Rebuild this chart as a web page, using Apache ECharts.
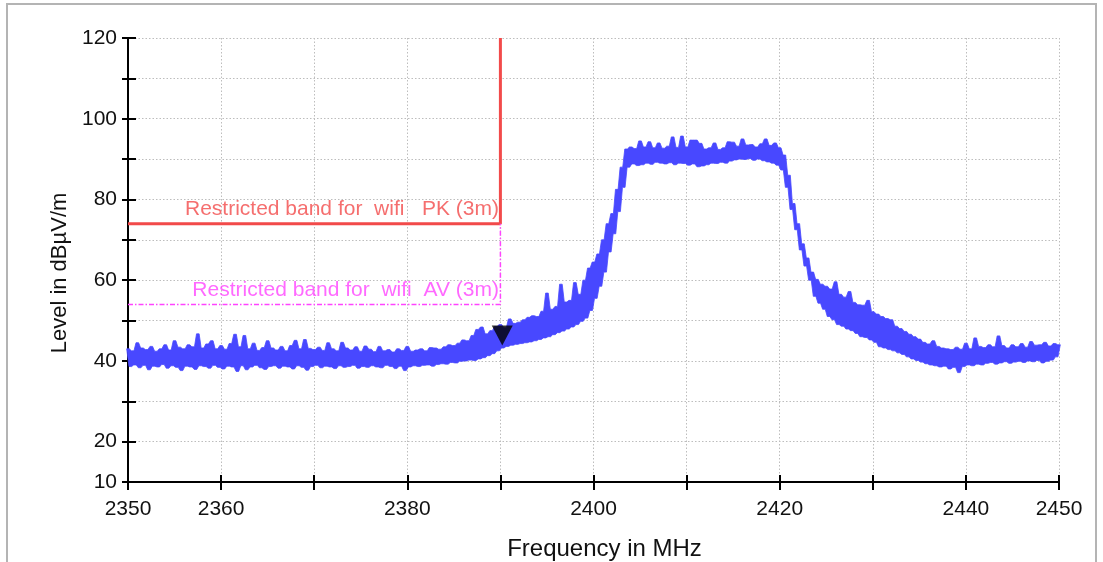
<!DOCTYPE html>
<html>
<head>
<meta charset="utf-8">
<script src="https://cdn.jsdelivr.net/npm/echarts@6/dist/echarts.min.js"></script>
<style>
html,body{margin:0;padding:0;background:#fff;}
#chart{width:1103px;height:562px;}
</style>
</head>
<body>
<div id="chart"></div>
<script>
// ---- data ----
var xLabelTicks = [2350, 2360, 2380, 2400, 2420, 2440, 2450];
var yLabelTicks = [10, 20, 40, 60, 80, 100, 120];
var xAxisName = 'Frequency in MHz';
var yAxisName = 'Level in dB\u00b5V/m';

// upper noise peaks, every 0.5 MHz starting at 2350
var upperStart = 2350;
var upperVals = [
43.0,42.5,44.5,43.2,42.8,43.6,42.4,43.0,44.0,42.7,45.0,43.4,43.0,44.0,43.5,46.7,43.2,44.2,45.0,43.0,
43.8,42.9,44.3,46.6,43.5,46.3,43.0,44.4,42.6,43.3,45.0,43.2,42.7,43.6,42.5,43.8,45.1,43.0,45.3,43.1,
42.8,43.4,42.6,44.5,43.0,42.5,44.6,43.2,42.7,43.5,42.4,43.7,42.9,42.3,43.6,42.5,42.8,42.2,43.0,42.6,
43.6,42.4,42.7,43.0,42.5,43.3,43.2,42.9,43.5,44.0,43.8,44.4,45.2,45.0,46.3,47.8,48.4,46.7,47.5,48.5,
49.0,48.2,50.4,49.3,49.6,50.2,50.8,51.2,51.0,52.3,56.8,52.8,53.5,59.0,54.6,55.0,59.4,56.5,60.0,63.0,
64.5,66.5,70.0,74.0,76.5,82.5,88.0,92.5,93.0,92.6,94.5,93.0,94.3,92.8,94.0,92.7,93.2,95.5,92.9,95.7,
93.0,94.7,94.7,93.9,92.5,92.8,94.0,92.4,92.8,94.3,94.2,93.2,95.0,93.5,93.6,93.0,93.8,95.0,93.4,94.0,
92.8,91.0,86.0,79.0,74.0,69.0,65.5,62.0,60.2,59.0,58.5,57.8,59.6,56.5,55.8,57.2,54.5,53.9,53.8,55.0,
52.2,51.6,51.0,50.5,50.2,48.6,48.0,47.3,46.6,46.0,45.4,44.6,44.2,45.0,43.6,43.2,43.0,42.8,43.4,42.9,
44.4,43.0,45.7,43.6,43.3,44.0,43.5,46.2,43.8,43.2,44.0,43.5,44.3,43.4,44.8,43.9,44.0,44.6,43.7,44.3,
44.0
];
// lower noise troughs, every 0.5 MHz starting at 2350.25
var lowerStart = 2350.25;
var lowerVals = [
38.6,39.0,38.3,38.9,37.8,38.7,38.5,39.1,38.2,38.8,38.4,37.6,38.7,38.5,37.9,38.8,38.6,38.2,38.9,38.4,
38.0,38.7,38.5,37.4,38.8,37.8,38.5,38.9,38.3,37.9,38.6,38.8,38.2,38.7,38.5,38.0,38.8,38.4,37.7,38.6,
38.9,38.3,38.7,38.5,38.1,38.8,38.4,38.6,38.9,38.2,38.6,38.4,38.8,38.5,38.3,38.9,38.6,38.1,38.7,37.6,
38.5,38.8,38.6,38.9,39.0,38.7,39.1,39.3,39.2,39.6,39.5,39.9,40.0,40.2,40.1,40.5,40.8,41.3,41.8,42.5,
43.2,43.6,43.9,44.1,44.3,44.5,44.7,45.0,45.3,45.7,46.0,46.5,47.0,47.4,47.9,48.4,49.0,49.8,50.6,52.5,
55.5,58.5,62.0,67.0,71.5,77.0,83.0,88.0,88.8,88.4,88.6,89.0,88.7,89.2,89.0,88.8,89.1,88.6,89.0,88.9,
88.5,88.8,88.1,88.3,88.6,89.0,88.9,89.2,89.0,89.5,89.8,90.0,89.9,90.1,89.7,90.0,89.6,89.3,89.0,88.5,
87.3,83.0,77.5,72.5,67.5,63.5,60.0,56.0,54.3,52.8,51.0,50.2,49.0,48.6,47.9,47.5,46.8,46.0,45.8,45.2,
44.6,43.5,43.2,42.8,42.5,42.0,41.6,41.0,40.5,40.1,39.7,39.3,39.0,38.8,38.5,38.7,38.0,38.4,37.1,38.6,
39.0,38.8,39.2,39.0,39.4,39.6,39.2,39.5,39.8,39.4,39.7,39.9,39.6,40.0,39.8,40.1,39.5,39.9,40.2,41.0
];
var sweepStep = 0.5;

// limit lines
var restrictedEdge = 2390;      // MHz
var bandStart = 2350;
var pkLimit = 74;               // dBuV/m
var avLimit = 54;
var topLevel = 120;
var pkLabel = 'Restricted band for  wifi   PK (3m)';
var avLabel = 'Restricted band for  wifi  AV (3m)';
// marker
var markerFreq = 2390.2;
var markerLevel = 43.8;

// ---- build series data ----
var upperPts = upperVals.map(function(v,i){ return [upperStart + i*sweepStep, v]; });
var lowerPts = lowerVals.map(function(v,i){ return [lowerStart + i*sweepStep, v]; });

var FONT = '"Liberation Sans", Arial, Helvetica, sans-serif';
var BLUE = '#4848ff';
var RED = '#f24a4a';
var MAG = '#ff44ff';

var chart = echarts.init(document.getElementById('chart'), null, {renderer:'canvas'});

var gridLine = {show:true, lineStyle:{color:'#bdbdbd', width:1, type:[1.5,2]}};

var option = {
  animation:false,
  backgroundColor:'#fff',
  grid:{left:128, right:44, top:38, bottom:80, containLabel:false, outerBoundsMode:'none'},
  graphic:[{type:'rect', shape:{x:7, y:4, width:1089, height:600}, style:{fill:'none', stroke:'#b4b4b4', lineWidth:2}, z:-10}],
  xAxis:[{
    type:'value', min:2350, max:2450, interval:10, position:'bottom',
    name:xAxisName, nameLocation:'middle', nameGap:55,
    nameTextStyle:{fontFamily:FONT, fontSize:24, color:'#111', padding:[0,0,0,22]},
    axisLine:{show:true, lineStyle:{color:'#000', width:2}},
    axisTick:{show:true, length:8, lineStyle:{color:'#000', width:2}},
    axisLabel:{margin:17, fontFamily:FONT, fontSize:21, color:'#111',
      formatter:function(v){ return xLabelTicks.indexOf(Math.round(v))>=0 ? String(Math.round(v)) : ''; }},
    splitLine:gridLine
  },{
    type:'value', min:2350, max:2450, interval:10, position:'bottom',
    axisLine:{show:false},
    axisTick:{show:true, inside:true, length:7, lineStyle:{color:'#000', width:2}},
    axisLabel:{show:false}, splitLine:{show:false}
  }],
  yAxis:[{
    type:'value', min:10, max:120, interval:10, position:'left',
    name:yAxisName, nameLocation:'middle', nameGap:56, nameRotate:90,
    nameTextStyle:{fontFamily:FONT, fontSize:22, color:'#111', padding:[0,26,0,0]},
    axisLine:{show:true, lineStyle:{color:'#000', width:2}},
    axisTick:{show:true, length:6, lineStyle:{color:'#000', width:2}},
    axisLabel:{margin:11, fontFamily:FONT, fontSize:21, color:'#111',
      formatter:function(v){ return yLabelTicks.indexOf(Math.round(v))>=0 ? String(Math.round(v)) : ''; }},
    splitLine:gridLine
  },{
    type:'value', min:10, max:120, interval:10, position:'left',
    axisLine:{show:false},
    axisTick:{show:true, inside:true, length:8, lineStyle:{color:'#000', width:2}},
    axisLabel:{show:false}, splitLine:{show:false}
  }],
  series:[
    {
      // measured sweep drawn as a filled band between peak and trough readings
      type:'custom', name:'trace', silent:true, z:2,
      data:[0],
      renderItem:function(params, api){
        var pts = [];
        var h = 0.14;
        upperPts.forEach(function(p){
          pts.push(api.coord([p[0]-h, p[1]]));
          pts.push(api.coord([p[0]+h, p[1]]));
        });
        for (var k = lowerPts.length-1; k >= 0; k--) {
          var q = lowerPts[k];
          pts.push(api.coord([q[0]+h, q[1]]));
          pts.push(api.coord([q[0]-h, q[1]]));
        }
        return {type:'polygon', shape:{points:pts}, style:{fill:BLUE, stroke:BLUE, lineWidth:0.8}};
      }
    },
    {
      type:'line', name:'PK', showSymbol:false, symbol:'none', z:4, silent:true,
      data:[[bandStart,pkLimit],[restrictedEdge,pkLimit],[restrictedEdge,topLevel]],
      lineStyle:{color:RED, width:3}
    },
    {
      type:'line', name:'AV', showSymbol:false, symbol:'none', z:4, silent:true,
      data:[[bandStart,avLimit],[restrictedEdge,avLimit],[restrictedEdge,pkLimit]],
      lineStyle:{color:MAG, width:1.5, type:[5,2,1.5,2]}
    },
    {
      type:'scatter', name:'labels', symbolSize:1, silent:true, z:5,
      itemStyle:{color:'rgba(0,0,0,0)'},
      data:[
        {value:[restrictedEdge,pkLimit], label:{show:true, formatter:pkLabel, color:RED}},
        {value:[restrictedEdge,avLimit], label:{show:true, formatter:avLabel, color:MAG}}
      ],
      label:{position:[0,0], align:'right', verticalAlign:'bottom', offset:[-1,-3],
        fontFamily:FONT, fontSize:21}
    },
    {
      type:'scatter', name:'marker', silent:true, z:6,
      data:[[markerFreq, markerLevel]],
      symbol:'triangle', symbolRotate:180, symbolSize:[21,20], symbolOffset:[0,-10],
      itemStyle:{color:'#000'}
    }
  ]
};
chart.setOption(option);
</script>
</body>
</html>
